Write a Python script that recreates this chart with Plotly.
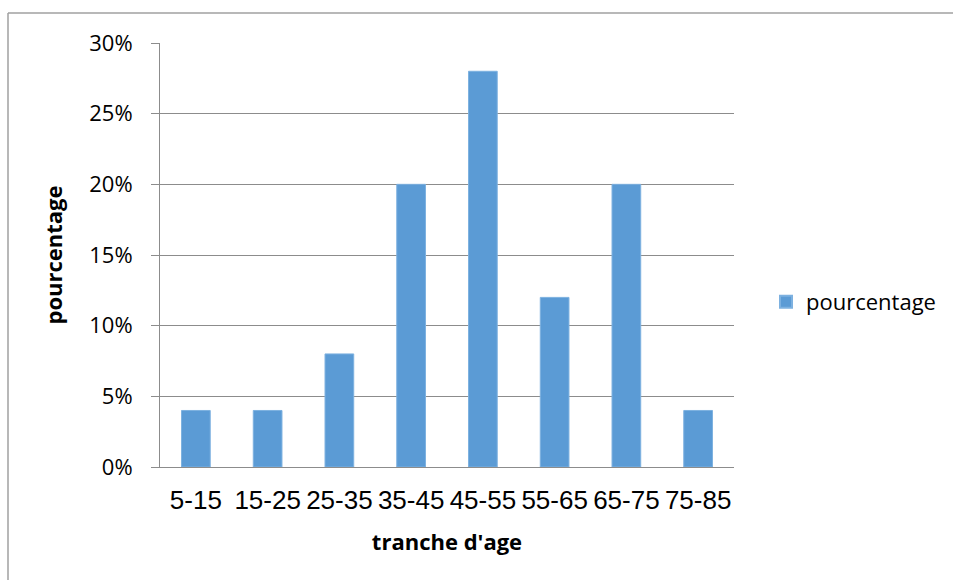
import plotly.graph_objects as go

# Age bands and share of respondents in each band
categories = ["5-15", "15-25", "25-35", "35-45", "45-55", "55-65", "65-75", "75-85"]
percent = [0.04, 0.04, 0.08, 0.20, 0.28, 0.12, 0.20, 0.04]
y_ticks = [0, 0.05, 0.10, 0.15, 0.20, 0.25, 0.30]

W, H = 953, 580
L, R, T, B = 160, 219, 43, 113
pw, ph = W - L - R, H - T - B

def px_x(x):
    return (x - L) / pw

def px_y(y):
    return (H - B - y) / ph

grid = "#8c8c8c"

fig = go.Figure(
    go.Bar(
        x=categories,
        y=percent,
        name="pourcentage",
        marker=dict(color="#5B9BD5", line=dict(color="#7DB1E0", width=1)),
    )
)

fig.update_layout(
    width=W,
    height=H,
    margin=dict(l=L, r=R, t=T, b=B, autoexpand=False),
    paper_bgcolor="white",
    plot_bgcolor="white",
    bargap=0.6,
    showlegend=True,
    legend=dict(
        x=px_x(766),
        y=px_y(302),
        xanchor="left",
        yanchor="middle",
        font=dict(family="Open Sans", size=22, color="#000"),
        itemsizing="constant",
    ),
    xaxis=dict(
        showline=True,
        linecolor=grid,
        linewidth=1,
        showgrid=False,
        ticks="",
        tickfont=dict(family="Liberation Sans", size=26, color="#000"),
        ticklabelstandoff=10,
        title=dict(
            text="tranche d'age",
            font=dict(family="Open Sans", size=22, color="#000", weight="bold"),
            standoff=20,
        ),
    ),
    yaxis=dict(
        range=[0, 0.30],
        tickvals=y_ticks,
        tickformat=".0%",
        showline=True,
        linecolor=grid,
        linewidth=1,
        showgrid=True,
        gridcolor=grid,
        gridwidth=1,
        ticks="outside",
        ticklen=8,
        tickcolor=grid,
        ticklabelstandoff=14,
        zeroline=False,
        tickfont=dict(family="Open Sans", size=22, color="#000"),
        title=dict(
            text="pourcentage",
            font=dict(family="Open Sans", size=22, color="#000", weight="bold"),
            standoff=20,
        ),
    ),
)

# Chart-area frame (top and left edges)
fig.add_shape(type="line", xref="paper", yref="paper",
              x0=px_x(8), x1=px_x(953), y0=px_y(13), y1=px_y(13),
              line=dict(color="#a0a0a0", width=1.5))
fig.add_shape(type="line", xref="paper", yref="paper",
              x0=px_x(8), x1=px_x(8), y0=px_y(13), y1=px_y(580),
              line=dict(color="#a0a0a0", width=1.5))

fig.write_html("out.html")
